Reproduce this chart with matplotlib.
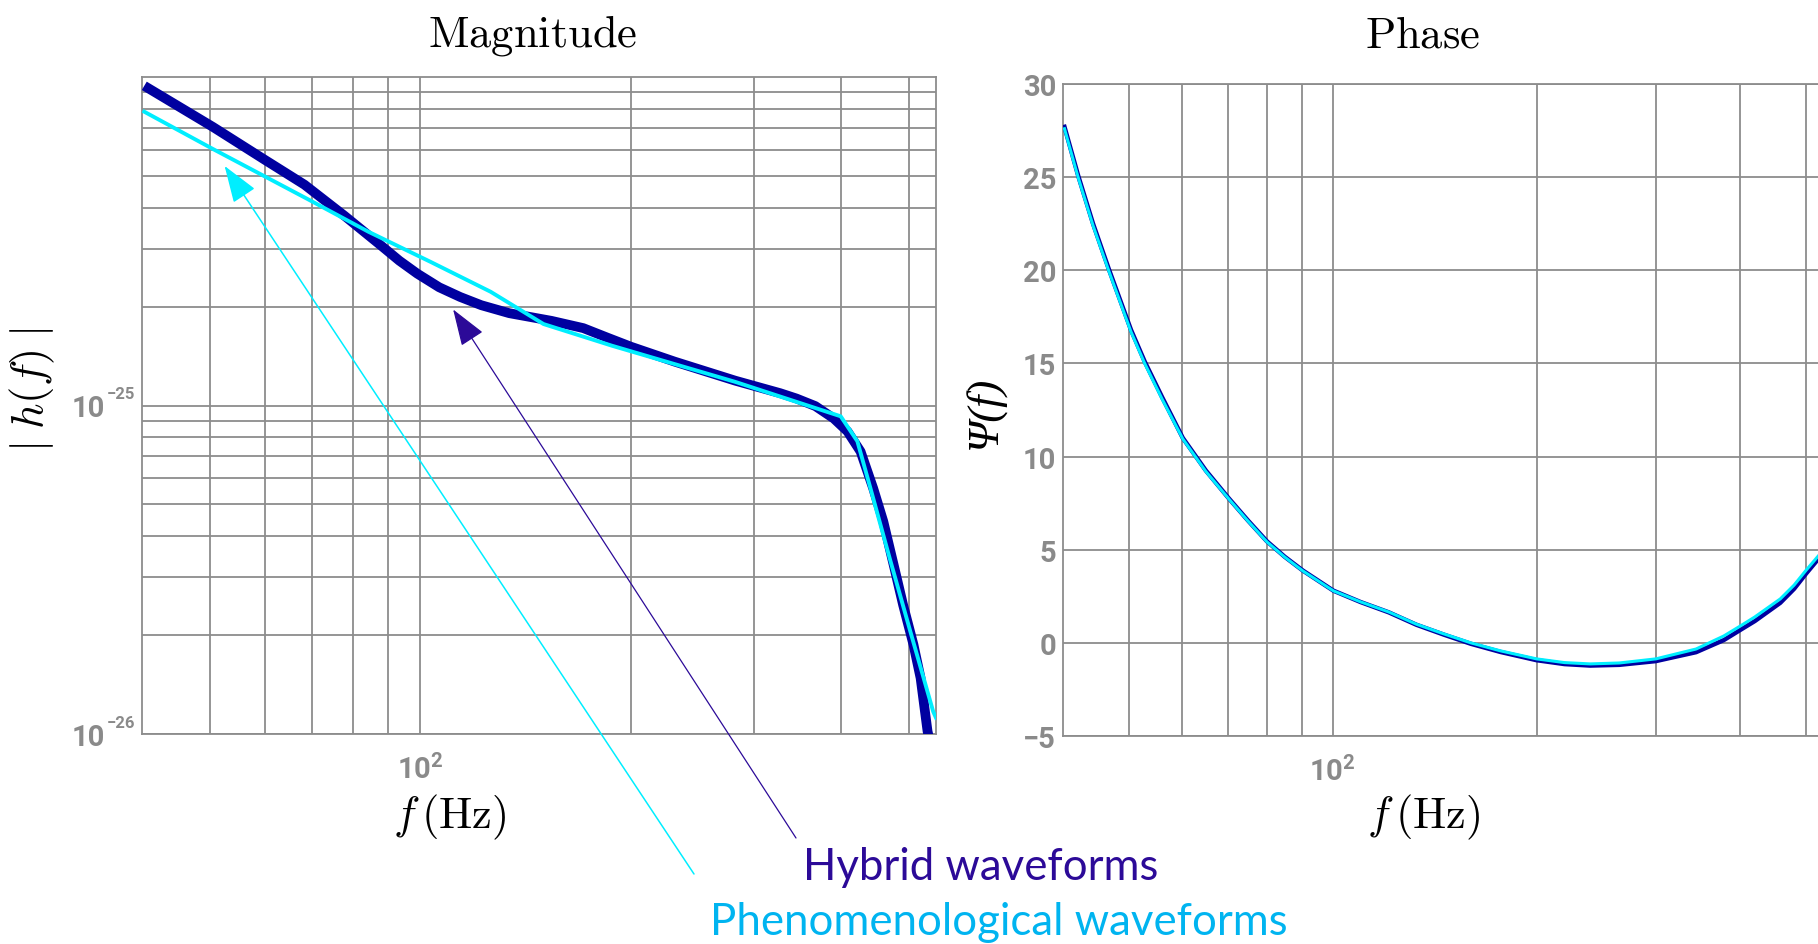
"""
频域波形对比：幅度 |h(f)| 与相位 Psi(f)
左图 log-log 幅度，右图 semilog 相位，两组波形叠画并加箭头注释
"""

import matplotlib
matplotlib.use('Agg')
import matplotlib.pyplot as plt
from matplotlib.ticker import NullFormatter, FixedLocator, FixedFormatter

# ── 全局样式 ─────────────────────────────────────────────────────
plt.rcParams.update({
    'font.family': 'sans-serif',
    'font.sans-serif': ['Roboto', 'DejaVu Sans'],
    'mathtext.fontset': 'custom',
    'mathtext.rm': 'Roboto:bold',
    'mathtext.it': 'Roboto:italic:bold',
    'mathtext.bf': 'Roboto:bold',
    'axes.unicode_minus': True,
})

# ── 颜色 ──────────────────────────────────────────────────────
C_HYB      = '#0000A0'   # hybrid 曲线（深蓝）
C_PHEN     = '#00EEFF'   # phenomenological 曲线（青色）
C_HYB_TXT  = '#2C0A98'
C_PHEN_TXT = '#00B4F0'
C_GRID     = '#8C8C8C'
C_TICK     = '#8A8A8A'

# ── 数据 ──────────────────────────────────────────────────────
# 幅度：hybrid
f_mag_hyb = [40.3, 50.5, 59.9, 68.3, 77.9, 88.0, 93.3, 99.0, 106.4, 114,
             122.2, 134, 154, 171, 185, 200, 231, 282, 327, 345, 367, 390,
             408, 426, 444, 459, 475, 490, 507, 519, 531, 541]
h_mag_hyb = [9.40e-25, 7.05e-25, 5.60e-25, 4.70e-25, 3.78e-25, 3.06e-25,
             2.76e-25, 2.52e-25, 2.29e-25, 2.14e-25, 2.02e-25, 1.91e-25,
             1.81e-25, 1.72e-25, 1.61e-25, 1.51e-25, 1.36e-25, 1.19e-25,
             1.09e-25, 1.05e-25, 9.96e-26, 9.13e-26, 8.34e-26, 7.24e-26,
             5.60e-26, 4.44e-26, 3.27e-26, 2.47e-26, 1.87e-26, 1.48e-26,
             1.02e-26, 8.5e-27]

# 幅度：phenomenological
f_mag_phen = [40.3, 50.5, 69.0, 84.3, 103.3, 126, 150, 188, 282, 399,
              421.5, 440, 470, 501.5, 541, 546]
h_mag_phen = [7.84e-25, 6.04e-25, 4.25e-25, 3.38e-25, 2.74e-25, 2.22e-25,
              1.77e-25, 1.52e-25, 1.18e-25, 9.27e-26, 7.78e-26, 5.60e-26,
              3.36e-26, 2.06e-26, 1.17e-26, 1.12e-26]

# 相位
f_phase = [40.2, 42.1, 44.3, 46.7, 50.4, 52.8, 56.0, 60.1, 65.0, 70.3,
           75.0, 80.0, 85.0, 90.4, 100.3, 110, 121, 133, 146, 160, 177,
           200, 220, 240, 265, 300, 344, 378, 400, 420, 458, 480, 500, 521]
psi_phen = [27.6, 25.0, 22.4, 20.0, 16.7, 15.0, 13.1, 10.95, 9.2, 7.72,
            6.54, 5.42, 4.6, 3.86, 2.79, 2.2, 1.66, 1.0, 0.48, 0.0, -0.43,
            -0.86, -1.06, -1.13, -1.08, -0.86, -0.33, 0.37, 0.91, 1.39,
            2.36, 3.1, 3.9, 4.66]
psi_hyb = [27.7, 25.1, 22.5, 20.1, 16.8, 15.1, 13.2, 11.0, 9.25, 7.75,
           6.57, 5.45, 4.62, 3.88, 2.80, 2.19, 1.64, 0.97, 0.44, -0.05,
           -0.49, -0.93, -1.14, -1.22, -1.18, -0.98, -0.50, 0.15, 0.70,
           1.17, 2.15, 2.9, 3.72, 4.50]

# 刻度
x_major = [100]
x_minor = [50, 60, 70, 80, 90, 200, 300, 400, 500]
mag_major = [1e-26, 1e-25]
mag_exp = ['\u221226', '\u221225']
mag_minor = [k * 1e-26 for k in range(2, 10)] + [k * 1e-25 for k in range(2, 10)]
phase_ticks = [-5, 0, 5, 10, 15, 20, 25, 30]

# ── 参数配置 ──────────────────────────────────────────────────
W, H = 1818, 945
XLIM = (40, 546)
GRID_LW = 1.3
TICK_FS = 21
LABEL_FS = 32


def fx(px):
    return px / W


def fy(py):
    return 1 - py / H


def style_axes(ax):
    ax.set_xscale('log')
    ax.set_xlim(*XLIM)
    ax.xaxis.set_major_locator(FixedLocator(x_major))
    ax.xaxis.set_minor_locator(FixedLocator(x_minor))
    ax.xaxis.set_major_formatter(FixedFormatter([r'$10^{2}$']))
    ax.xaxis.set_minor_formatter(NullFormatter())
    ax.grid(True, which='both', color=C_GRID, lw=GRID_LW)
    ax.set_axisbelow(True)
    for sp in ax.spines.values():
        sp.set_color(C_GRID)
        sp.set_linewidth(GRID_LW)
    ax.tick_params(which='both', length=0, colors=C_TICK, labelsize=TICK_FS)
    ax.tick_params(axis='x', pad=14)
    ax.tick_params(axis='y', pad=5)


# ── 画布 ─────────────────────────────────────────────────────
fig = plt.figure(figsize=(W / 100, H / 100), dpi=100)
ax_mag = fig.add_axes([fx(142), fy(735), fx(936 - 142), (735 - 78) / H])
ax_ph = fig.add_axes([fx(1063), fy(737), fx(1832 - 1063), (737 - 85) / H])

# ── 幅度 ─────────────────────────────────────────────────────
ax_mag.plot(f_mag_hyb, h_mag_hyb, color=C_HYB, lw=7, solid_capstyle='butt',
            solid_joinstyle='round', zorder=3)
ax_mag.plot(f_mag_phen, h_mag_phen, color=C_PHEN, lw=2.8, zorder=4)
style_axes(ax_mag)
ax_mag.set_yscale('log')
ax_mag.set_ylim(1e-26, 1e-24)
ax_mag.yaxis.set_major_locator(FixedLocator(mag_major))
ax_mag.yaxis.set_major_formatter(NullFormatter())
ax_mag.yaxis.set_minor_locator(FixedLocator(mag_minor))
ax_mag.yaxis.set_minor_formatter(NullFormatter())

# y 轴 10^n 标签：底数大、指数小
for v, e in zip(mag_major, mag_exp):
    ax_mag.annotate('10', xy=(0, v), xycoords=('axes fraction', 'data'),
                    xytext=(-37, -11), textcoords='offset pixels',
                    ha='right', va='baseline', fontsize=TICK_FS,
                    fontweight='bold', color=C_TICK, annotation_clip=False)
    ax_mag.annotate(e, xy=(0, v), xycoords=('axes fraction', 'data'),
                    xytext=(-35, 7), textcoords='offset pixels',
                    ha='left', va='baseline', fontsize=12,
                    fontweight='bold', color=C_TICK, annotation_clip=False)

# ── 相位 ─────────────────────────────────────────────────────
ax_ph.plot(f_phase, psi_hyb, color=C_HYB, lw=3.2, zorder=3)
ax_ph.plot(f_phase, psi_phen, color=C_PHEN, lw=2.2, zorder=4)
style_axes(ax_ph)
ax_ph.set_ylim(-5, 30)
ax_ph.set_yticks(phase_ticks)
ax_ph.set_yticklabels([f'{v}'.replace('-', '\u2212') for v in phase_ticks],
                      fontweight='bold')

# ── 标题与坐标轴标签（Computer Modern）──────────────────────────
cm = dict(math_fontfamily='cm', color='black', fontsize=LABEL_FS)
fig.text(fx(533), fy(47), r'$\mathrm{Magnitude}$', ha='center', va='baseline', **cm)
fig.text(fx(1423), fy(47), r'$\mathrm{Phase}$', ha='center', va='baseline', **cm)
fig.text(fx(450), fy(828), r'$f\,(\mathrm{Hz})$', ha='center', va='baseline', **cm)
fig.text(fx(1424), fy(828), r'$f\,(\mathrm{Hz})$', ha='center', va='baseline', **cm)
fig.text(fx(32), fy(390), r'$|\;h(f)\;|$', ha='center', va='center', rotation=90, **cm)
# Psi 需要斜体，CM 里大写希腊字母只有正体，改用衬线斜体
fig.text(fx(985), fy(412), '\u03a8(f)', family='Liberation Serif', style='italic',
         fontsize=LABEL_FS, color='black', ha='center', va='center', rotation=90)

# ── 箭头注释 ─────────────────────────────────────────────────
head = '-|>,head_length=0.4,head_width=0.14'
ax_mag.annotate('', xy=(52.5, 5.36e-25), xycoords='data',
                xytext=(fx(694), fy(875)), textcoords='figure fraction',
                arrowprops=dict(arrowstyle=head, mutation_scale=58, color=C_PHEN,
                                lw=1.1, shrinkA=0, shrinkB=0),
                annotation_clip=False, zorder=6)
ax_mag.annotate('', xy=(111.4, 1.96e-25), xycoords='data',
                xytext=(fx(796), fy(839)), textcoords='figure fraction',
                arrowprops=dict(arrowstyle=head, mutation_scale=58, color=C_HYB_TXT,
                                lw=0.9, shrinkA=0, shrinkB=0),
                annotation_clip=False, zorder=6)

fig.text(fx(981), fy(880), 'Hybrid waveforms', color=C_HYB_TXT,
         fontsize=31.5, family='Lato', ha='center', va='baseline')
fig.text(fx(999), fy(935), 'Phenomenological waveforms', color=C_PHEN_TXT,
         fontsize=31.5, family='Lato', ha='center', va='baseline')

# ── 保存 ─────────────────────────────────────────────────────
fig.savefig('out.png', dpi=100, facecolor='white')
plt.close(fig)
